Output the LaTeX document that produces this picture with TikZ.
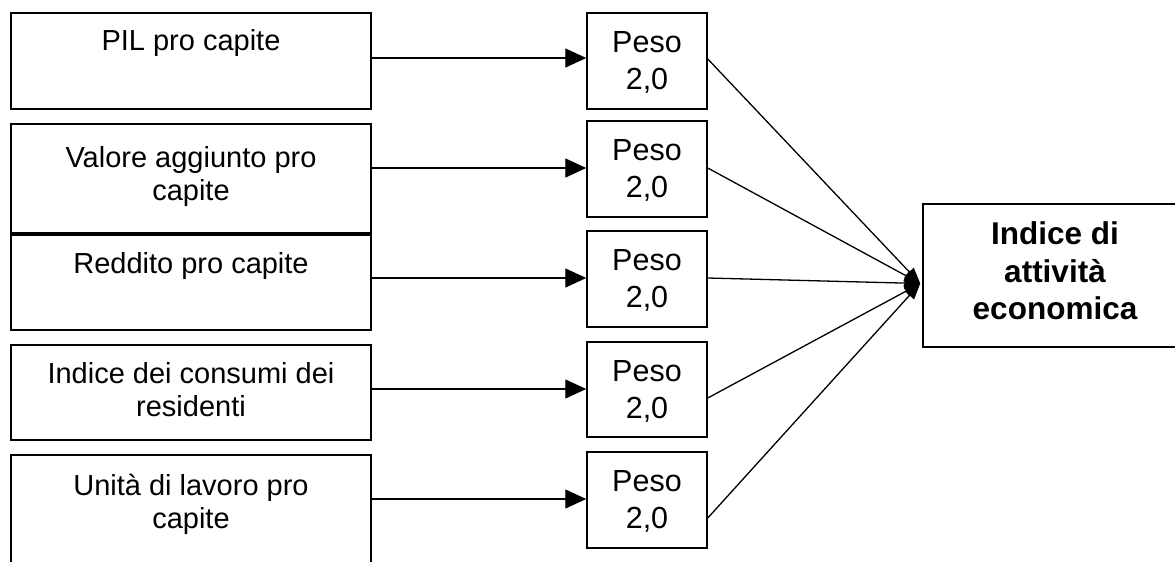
\documentclass[tikz,border=0pt]{standalone}
\usepackage{fontspec}
\setmainfont{Liberation Sans}
\usetikzlibrary{arrows.meta}
\begin{document}
\begin{tikzpicture}[x=1pt,y=-1pt,
  box/.style={draw,line width=1.5pt,inner sep=0pt,rectangle},
  lefttext/.style={anchor=north,inner sep=0pt,align=center,font=\fontsize{29}{33}\selectfont},
  midtext/.style={anchor=north,inner sep=0pt,align=center,font=\fontsize{30.5}{37}\selectfont},
  righttext/.style={anchor=north,inner sep=0pt,align=center,font=\bfseries\fontsize{31.5}{37.3}\selectfont},
  feed/.style={line width=1.3pt,-{Triangle[length=21pt,width=19pt]}},
  conv/.style={line width=1.3pt,-{Triangle[length=16pt,width=12pt]}}]
\useasboundingbox (0,0) rectangle (1175,562);
\clip (0,0) rectangle (1175,562);
\fill[white] (0,0) rectangle (1175,562);
% left boxes
\node[box,minimum width=360pt,minimum height=96pt] (L1) at (191,61) {};
\node[box,minimum width=360pt,minimum height=109pt] (L2) at (191,178.5) {};
\node[box,minimum width=360pt,minimum height=95pt] (L3) at (191,282.5) {};
\node[box,minimum width=360pt,minimum height=95pt] (L4) at (191,392.5) {};
\node[box,minimum width=360pt,minimum height=120pt] (L5) at (191,515) {};
\node[lefttext] (t1) at ([yshift=-17pt]L1.north) {PIL pro capite};
\node[lefttext] (t2) at ([yshift=-22.7pt]L2.north) {Valore aggiunto pro\\capite};
\node[lefttext] (t3) at ([yshift=-18pt]L3.north) {Reddito pro capite};
\node[lefttext] (t4) at ([yshift=-18pt]L4.north) {Indice dei consumi dei\\residenti};
\node[lefttext] (t5) at ([yshift=-20pt]L5.north) {Unità di lavoro pro\\capite};
% middle boxes
\node[box,minimum width=120pt,minimum height=96pt] (M1) at (647,61) {};
\node[box,minimum width=120pt,minimum height=96pt] (M2) at (647,169) {};
\node[box,minimum width=120pt,minimum height=96pt] (M3) at (647,279) {};
\node[box,minimum width=120pt,minimum height=95pt] (M4) at (647,389.5) {};
\node[box,minimum width=120pt,minimum height=96pt] (M5) at (647,500) {};
\foreach \i in {1,...,5}{
  \node[midtext] (p\i) at ([yshift=-18.7pt]M\i.north) {Peso\\2,0};
}
% right box
\node[box,minimum width=264pt,minimum height=143pt] (R) at (1055,275.5) {};
\node[righttext] (rt) at ([yshift=-18.7pt]R.north) {Indice di\\attività\\economica};
\coordinate (C) at ([xshift=-2pt,yshift=-8pt]R.west);
% feed arrows
\draw[feed] ([yshift=3pt]L1.east |- M1.west) -- ([yshift=3pt]M1.west);
\draw[feed] ([yshift=1pt]L2.east |- M2.west) -- ([yshift=1pt]M2.west);
\draw[feed] ([yshift=1pt]L3.east |- M3.west) -- ([yshift=1pt]M3.west);
\draw[feed] ([yshift=0.5pt]L4.east |- M4.west) -- ([yshift=0.5pt]M4.west);
\draw[feed] ([yshift=1pt]L5.east |- M5.west) -- ([yshift=1pt]M5.west);
% converging arrows
\draw[conv] ([yshift=2pt]M1.east) -- (C);
\draw[conv] ([yshift=1pt]M2.east) -- (C);
\draw[conv] ([yshift=1pt]M3.east) -- (C);
\draw[conv] ([yshift=-8.5pt]M4.east) -- (C);
\draw[conv] ([yshift=-18pt]M5.east) -- (C);
\end{tikzpicture}
\end{document}
